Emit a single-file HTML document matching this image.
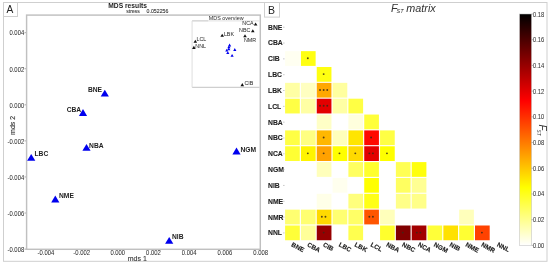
<!DOCTYPE html><html><head><meta charset="utf-8"><style>html,body{margin:0;padding:0;background:#fff;}svg{display:block;filter:blur(0.3px);}</style></head><body>
<svg width="550" height="265" viewBox="0 0 550 265" font-family="&quot;Liberation Sans&quot;, sans-serif">
<defs><linearGradient id="cb" x1="0" y1="0" x2="0" y2="1"><stop offset="0" stop-color="#000000"/><stop offset="0.375" stop-color="#ff0000"/><stop offset="0.75" stop-color="#ffff00"/><stop offset="1" stop-color="#ffffff"/></linearGradient></defs>
<rect width="550" height="265" fill="#fff"/>
<rect x="3.5" y="2.5" width="543.5" height="258.8" fill="none" stroke="#cfcfcf" stroke-width="1"/>
<rect x="3.5" y="2.5" width="14" height="14" fill="none" stroke="#cfcfcf" stroke-width="1"/>
<text x="6.4" y="12.9" font-size="10.2" fill="#222">A</text>
<rect x="264.5" y="2.5" width="15" height="14.6" fill="none" stroke="#cfcfcf" stroke-width="1"/>
<text x="268" y="13.6" font-size="10.5" fill="#222">B</text>
<text x="108.3" y="8.2" font-size="6.7" font-weight="bold" fill="#222">MDS results</text>
<text x="126.3" y="13.2" font-size="5.7" fill="#333" stroke="#333" stroke-width="0.1" textLength="13.4" lengthAdjust="spacingAndGlyphs">stress</text>
<text x="146.6" y="13.2" font-size="5.7" fill="#333" stroke="#333" stroke-width="0.1" textLength="21.8" lengthAdjust="spacingAndGlyphs">0.052256</text>
<rect x="26.6" y="15.1" width="233.7" height="234.2" fill="none" stroke="#c0c0c0" stroke-width="1.45"/>
<line x1="24.5" y1="32.64" x2="26" y2="32.64" stroke="#999" stroke-width="0.8"/>
<text x="24.2" y="35.44" font-size="6.9" fill="#333" stroke="#333" stroke-width="0.05" text-anchor="end" textLength="14.74" lengthAdjust="spacingAndGlyphs">0.004</text>
<line x1="24.5" y1="68.72" x2="26" y2="68.72" stroke="#999" stroke-width="0.8"/>
<text x="24.2" y="71.52" font-size="6.9" fill="#333" stroke="#333" stroke-width="0.05" text-anchor="end" textLength="14.74" lengthAdjust="spacingAndGlyphs">0.002</text>
<line x1="24.5" y1="104.80" x2="26" y2="104.80" stroke="#999" stroke-width="0.8"/>
<text x="24.2" y="107.60" font-size="6.9" fill="#333" stroke="#333" stroke-width="0.05" text-anchor="end" textLength="14.74" lengthAdjust="spacingAndGlyphs">0.000</text>
<line x1="24.5" y1="140.88" x2="26" y2="140.88" stroke="#999" stroke-width="0.8"/>
<text x="24.2" y="143.68" font-size="6.9" fill="#333" stroke="#333" stroke-width="0.05" text-anchor="end" textLength="16.70" lengthAdjust="spacingAndGlyphs">-0.002</text>
<line x1="24.5" y1="176.96" x2="26" y2="176.96" stroke="#999" stroke-width="0.8"/>
<text x="24.2" y="179.76" font-size="6.9" fill="#333" stroke="#333" stroke-width="0.05" text-anchor="end" textLength="16.70" lengthAdjust="spacingAndGlyphs">-0.004</text>
<line x1="24.5" y1="213.04" x2="26" y2="213.04" stroke="#999" stroke-width="0.8"/>
<text x="24.2" y="215.84" font-size="6.9" fill="#333" stroke="#333" stroke-width="0.05" text-anchor="end" textLength="16.70" lengthAdjust="spacingAndGlyphs">-0.006</text>
<line x1="24.5" y1="249.12" x2="26" y2="249.12" stroke="#999" stroke-width="0.8"/>
<text x="24.2" y="251.92" font-size="6.9" fill="#333" stroke="#333" stroke-width="0.05" text-anchor="end" textLength="16.70" lengthAdjust="spacingAndGlyphs">-0.008</text>
<text x="45.90" y="255.1" font-size="6.9" fill="#333" stroke="#333" stroke-width="0.05" text-anchor="middle" textLength="16.70" lengthAdjust="spacingAndGlyphs">-0.004</text>
<text x="81.63" y="255.1" font-size="6.9" fill="#333" stroke="#333" stroke-width="0.05" text-anchor="middle" textLength="16.70" lengthAdjust="spacingAndGlyphs">-0.002</text>
<text x="117.76" y="255.1" font-size="6.9" fill="#333" stroke="#333" stroke-width="0.05" text-anchor="middle" textLength="14.74" lengthAdjust="spacingAndGlyphs">0.000</text>
<text x="153.49" y="255.1" font-size="6.9" fill="#333" stroke="#333" stroke-width="0.05" text-anchor="middle" textLength="14.74" lengthAdjust="spacingAndGlyphs">0.002</text>
<text x="189.22" y="255.1" font-size="6.9" fill="#333" stroke="#333" stroke-width="0.05" text-anchor="middle" textLength="14.74" lengthAdjust="spacingAndGlyphs">0.004</text>
<text x="224.95" y="255.1" font-size="6.9" fill="#333" stroke="#333" stroke-width="0.05" text-anchor="middle" textLength="14.74" lengthAdjust="spacingAndGlyphs">0.006</text>
<text x="260.68" y="255.1" font-size="6.9" fill="#333" stroke="#333" stroke-width="0.05" text-anchor="middle" textLength="14.74" lengthAdjust="spacingAndGlyphs">0.008</text>
<text x="137.3" y="260.7" font-size="7" fill="#333" stroke="#333" stroke-width="0.1" text-anchor="middle">mds 1</text>
<text transform="translate(15,125.4) rotate(-90)" font-size="7" fill="#333" stroke="#333" stroke-width="0.1" text-anchor="middle">mds 2</text>
<path d="M104.80 89.80L108.90 96.60L100.70 96.60Z" fill="#0000ee"/>
<text x="102.00" y="92.00" font-size="6.7" font-weight="bold" fill="#222" text-anchor="end">BNE</text>
<path d="M83.00 109.10L87.10 115.90L78.90 115.90Z" fill="#0000ee"/>
<text x="81.20" y="112.20" font-size="6.7" font-weight="bold" fill="#222" text-anchor="end">CBA</text>
<path d="M31.20 153.90L35.30 160.70L27.10 160.70Z" fill="#0000ee"/>
<text x="34.50" y="156.00" font-size="6.7" font-weight="bold" fill="#222" text-anchor="start">LBC</text>
<path d="M86.50 143.90L90.60 150.70L82.40 150.70Z" fill="#0000ee"/>
<text x="89.10" y="148.00" font-size="6.7" font-weight="bold" fill="#222" text-anchor="start">NBA</text>
<path d="M55.30 195.60L59.40 202.40L51.20 202.40Z" fill="#0000ee"/>
<text x="59.00" y="198.40" font-size="6.7" font-weight="bold" fill="#222" text-anchor="start">NME</text>
<path d="M236.50 147.60L240.60 154.40L232.40 154.40Z" fill="#0000ee"/>
<text x="240.40" y="151.80" font-size="6.7" font-weight="bold" fill="#222" text-anchor="start">NGM</text>
<path d="M169.20 237.00L173.30 243.80L165.10 243.80Z" fill="#0000ee"/>
<text x="172.00" y="238.85" font-size="6.7" font-weight="bold" fill="#222" text-anchor="start">NIB</text>
<rect x="192.1" y="20.9" width="66.6" height="66.4" fill="#fff" stroke="none"/>
<path d="M208.2 20.9H259.5" fill="none" stroke="#dedede" stroke-width="0.9"/>
<path d="M192.1 20.9H208.2M192.1 87.3H259.5" fill="none" stroke="#bcbcbc" stroke-width="0.9"/>
<path d="M192.1 20.9V87.3" fill="none" stroke="#dadada" stroke-width="0.9"/>
<text x="208.8" y="19.9" font-size="5.4" fill="#2a2a2a">MDS overview</text>
<path d="M195.30 39.65L197.10 42.75L193.50 42.75Z" fill="#111"/>
<text x="196.50" y="41.40" font-size="5.35" fill="#222" text-anchor="start">LCL</text>
<path d="M193.90 45.85L195.70 48.95L192.10 48.95Z" fill="#111"/>
<text x="195.30" y="47.90" font-size="5.35" fill="#222" text-anchor="start">NNL</text>
<path d="M222.20 33.75L224.00 36.85L220.40 36.85Z" fill="#111"/>
<text x="223.90" y="35.70" font-size="5.35" fill="#222" text-anchor="start">LBK</text>
<path d="M255.60 22.45L257.40 25.55L253.80 25.55Z" fill="#111"/>
<text x="253.60" y="25.10" font-size="5.35" fill="#222" text-anchor="end">NCA</text>
<path d="M252.80 29.15L254.60 32.25L251.00 32.25Z" fill="#111"/>
<text x="250.40" y="31.90" font-size="5.35" fill="#222" text-anchor="end">NBC</text>
<path d="M245.00 34.15L246.80 37.25L243.20 37.25Z" fill="#111"/>
<text x="244.00" y="41.90" font-size="5.35" fill="#222" text-anchor="start">NMR</text>
<path d="M242.30 83.05L244.10 86.15L240.50 86.15Z" fill="#111"/>
<text x="244.50" y="85.10" font-size="5.35" fill="#222" text-anchor="start">CIB</text>
<path d="M229.60 43.60L231.20 46.40L228.00 46.40Z" fill="#0000ee"/>
<path d="M228.90 45.50L230.50 48.30L227.30 48.30Z" fill="#0000ee"/>
<path d="M228.80 47.40L230.40 50.20L227.20 50.20Z" fill="#0000ee"/>
<path d="M226.80 48.80L228.40 51.60L225.20 51.60Z" fill="#0000ee"/>
<path d="M227.80 51.20L229.40 54.00L226.20 54.00Z" fill="#0000ee"/>
<path d="M234.80 48.10L236.40 50.90L233.20 50.90Z" fill="#0000ee"/>
<path d="M232.10 54.00L233.70 56.80L230.50 56.80Z" fill="#0000ee"/>
<text x="391" y="11.7" font-size="10.8" font-style="italic" fill="#333">F</text>
<text x="396.6" y="13.0" font-size="5.6" font-style="italic" fill="#333">ST</text>
<text x="406.3" y="11.7" font-size="10.8" font-style="italic" fill="#333">matrix</text>
<text x="268" y="29.61" font-size="6.8" font-weight="bold" fill="#222" stroke="#222" stroke-width="0.1">BNE</text>
<line x1="283" y1="27.21" x2="284.6" y2="27.21" stroke="#aaa" stroke-width="0.6"/>
<text x="268" y="45.44" font-size="6.8" font-weight="bold" fill="#222" stroke="#222" stroke-width="0.1">CBA</text>
<line x1="283" y1="43.04" x2="284.6" y2="43.04" stroke="#aaa" stroke-width="0.6"/>
<text x="268" y="61.26" font-size="6.8" font-weight="bold" fill="#222" stroke="#222" stroke-width="0.1">CIB</text>
<line x1="283" y1="58.86" x2="284.6" y2="58.86" stroke="#aaa" stroke-width="0.6"/>
<text x="268" y="77.09" font-size="6.8" font-weight="bold" fill="#222" stroke="#222" stroke-width="0.1">LBC</text>
<line x1="283" y1="74.69" x2="284.6" y2="74.69" stroke="#aaa" stroke-width="0.6"/>
<text x="268" y="92.91" font-size="6.8" font-weight="bold" fill="#222" stroke="#222" stroke-width="0.1">LBK</text>
<line x1="283" y1="90.51" x2="284.6" y2="90.51" stroke="#aaa" stroke-width="0.6"/>
<text x="268" y="108.74" font-size="6.8" font-weight="bold" fill="#222" stroke="#222" stroke-width="0.1">LCL</text>
<line x1="283" y1="106.34" x2="284.6" y2="106.34" stroke="#aaa" stroke-width="0.6"/>
<text x="268" y="124.56" font-size="6.8" font-weight="bold" fill="#222" stroke="#222" stroke-width="0.1">NBA</text>
<line x1="283" y1="122.16" x2="284.6" y2="122.16" stroke="#aaa" stroke-width="0.6"/>
<text x="268" y="140.39" font-size="6.8" font-weight="bold" fill="#222" stroke="#222" stroke-width="0.1">NBC</text>
<line x1="283" y1="137.99" x2="284.6" y2="137.99" stroke="#aaa" stroke-width="0.6"/>
<text x="268" y="156.21" font-size="6.8" font-weight="bold" fill="#222" stroke="#222" stroke-width="0.1">NCA</text>
<line x1="283" y1="153.81" x2="284.6" y2="153.81" stroke="#aaa" stroke-width="0.6"/>
<text x="268" y="172.04" font-size="6.8" font-weight="bold" fill="#222" stroke="#222" stroke-width="0.1">NGM</text>
<line x1="283" y1="169.64" x2="284.6" y2="169.64" stroke="#aaa" stroke-width="0.6"/>
<text x="268" y="187.86" font-size="6.8" font-weight="bold" fill="#222" stroke="#222" stroke-width="0.1">NIB</text>
<line x1="283" y1="185.46" x2="284.6" y2="185.46" stroke="#aaa" stroke-width="0.6"/>
<text x="268" y="203.69" font-size="6.8" font-weight="bold" fill="#222" stroke="#222" stroke-width="0.1">NME</text>
<line x1="283" y1="201.29" x2="284.6" y2="201.29" stroke="#aaa" stroke-width="0.6"/>
<text x="268" y="219.51" font-size="6.8" font-weight="bold" fill="#222" stroke="#222" stroke-width="0.1">NMR</text>
<line x1="283" y1="217.11" x2="284.6" y2="217.11" stroke="#aaa" stroke-width="0.6"/>
<text x="268" y="235.34" font-size="6.8" font-weight="bold" fill="#222" stroke="#222" stroke-width="0.1">NNL</text>
<line x1="283" y1="232.94" x2="284.6" y2="232.94" stroke="#aaa" stroke-width="0.6"/>
<rect x="285.10" y="51.15" width="14.7" height="14.75" fill="#fffff1"/>
<rect x="300.93" y="51.15" width="14.7" height="14.75" fill="#ffff11"/>
<circle cx="307.82" cy="58.25" r="0.95" fill="#3a2a18" opacity="0.85"/>
<rect x="316.75" y="67.00" width="14.7" height="14.75" fill="#ffff11"/>
<circle cx="323.65" cy="74.10" r="0.95" fill="#3a2a18" opacity="0.85"/>
<rect x="285.10" y="82.85" width="14.7" height="14.75" fill="#ffffa4"/>
<rect x="300.93" y="82.85" width="14.7" height="14.75" fill="#ffffc1"/>
<rect x="316.75" y="82.85" width="14.7" height="14.75" fill="#ffa800"/>
<circle cx="320.05" cy="89.95" r="0.95" fill="#3a2a18" opacity="0.85"/>
<circle cx="323.65" cy="89.95" r="0.95" fill="#3a2a18" opacity="0.85"/>
<circle cx="327.25" cy="89.95" r="0.95" fill="#3a2a18" opacity="0.85"/>
<rect x="332.58" y="82.85" width="14.7" height="14.75" fill="#ffff9f"/>
<rect x="285.10" y="98.70" width="14.7" height="14.75" fill="#ffff44"/>
<rect x="300.93" y="98.70" width="14.7" height="14.75" fill="#ffffa4"/>
<rect x="316.75" y="98.70" width="14.7" height="14.75" fill="#e30000"/>
<circle cx="320.05" cy="105.80" r="0.95" fill="#3a2a18" opacity="0.85"/>
<circle cx="323.65" cy="105.80" r="0.95" fill="#3a2a18" opacity="0.85"/>
<circle cx="327.25" cy="105.80" r="0.95" fill="#3a2a18" opacity="0.85"/>
<rect x="332.58" y="98.70" width="14.7" height="14.75" fill="#ffffa4"/>
<rect x="348.40" y="98.70" width="14.7" height="14.75" fill="#ffff44"/>
<rect x="316.75" y="114.55" width="14.7" height="14.75" fill="#ffffc6"/>
<rect x="348.40" y="114.55" width="14.7" height="14.75" fill="#ffffdd"/>
<rect x="364.23" y="114.55" width="14.7" height="14.75" fill="#ffff39"/>
<rect x="285.10" y="130.40" width="14.7" height="14.75" fill="#ffff44"/>
<rect x="300.93" y="130.40" width="14.7" height="14.75" fill="#ffff82"/>
<rect x="316.75" y="130.40" width="14.7" height="14.75" fill="#ffb700"/>
<circle cx="323.65" cy="137.50" r="0.95" fill="#3a2a18" opacity="0.85"/>
<rect x="332.58" y="130.40" width="14.7" height="14.75" fill="#ffffbb"/>
<rect x="348.40" y="130.40" width="14.7" height="14.75" fill="#ffe500"/>
<rect x="364.23" y="130.40" width="14.7" height="14.75" fill="#ff0900"/>
<circle cx="371.12" cy="137.50" r="0.95" fill="#3a2a18" opacity="0.85"/>
<rect x="380.05" y="130.40" width="14.7" height="14.75" fill="#ffff44"/>
<rect x="285.10" y="146.25" width="14.7" height="14.75" fill="#ffff33"/>
<rect x="300.93" y="146.25" width="14.7" height="14.75" fill="#fff400"/>
<circle cx="307.82" cy="153.35" r="0.95" fill="#3a2a18" opacity="0.85"/>
<rect x="316.75" y="146.25" width="14.7" height="14.75" fill="#ffa100"/>
<circle cx="323.65" cy="153.35" r="0.95" fill="#3a2a18" opacity="0.85"/>
<rect x="332.58" y="146.25" width="14.7" height="14.75" fill="#ffff00"/>
<circle cx="339.48" cy="153.35" r="0.95" fill="#3a2a18" opacity="0.85"/>
<rect x="348.40" y="146.25" width="14.7" height="14.75" fill="#ffd900"/>
<circle cx="355.30" cy="153.35" r="0.95" fill="#3a2a18" opacity="0.85"/>
<rect x="364.23" y="146.25" width="14.7" height="14.75" fill="#e30000"/>
<circle cx="369.32" cy="153.35" r="0.95" fill="#3a2a18" opacity="0.85"/>
<circle cx="372.93" cy="153.35" r="0.95" fill="#3a2a18" opacity="0.85"/>
<rect x="380.05" y="146.25" width="14.7" height="14.75" fill="#ffff00"/>
<circle cx="386.95" cy="153.35" r="0.95" fill="#3a2a18" opacity="0.85"/>
<rect x="316.75" y="162.10" width="14.7" height="14.75" fill="#ffffbb"/>
<rect x="348.40" y="162.10" width="14.7" height="14.75" fill="#ffff60"/>
<rect x="364.23" y="162.10" width="14.7" height="14.75" fill="#ffff2d"/>
<rect x="395.88" y="162.10" width="14.7" height="14.75" fill="#ffff55"/>
<rect x="411.70" y="162.10" width="14.7" height="14.75" fill="#ffff0b"/>
<rect x="332.58" y="177.95" width="14.7" height="14.75" fill="#ffffee"/>
<rect x="364.23" y="177.95" width="14.7" height="14.75" fill="#ffff00"/>
<rect x="395.88" y="177.95" width="14.7" height="14.75" fill="#ffff60"/>
<rect x="411.70" y="177.95" width="14.7" height="14.75" fill="#ffff93"/>
<rect x="316.75" y="193.80" width="14.7" height="14.75" fill="#ffffe8"/>
<rect x="348.40" y="193.80" width="14.7" height="14.75" fill="#ffff7d"/>
<rect x="364.23" y="193.80" width="14.7" height="14.75" fill="#ffff17"/>
<rect x="395.88" y="193.80" width="14.7" height="14.75" fill="#ffff88"/>
<rect x="411.70" y="193.80" width="14.7" height="14.75" fill="#ffff88"/>
<rect x="285.10" y="209.65" width="14.7" height="14.75" fill="#ffff71"/>
<rect x="300.93" y="209.65" width="14.7" height="14.75" fill="#ffff71"/>
<rect x="316.75" y="209.65" width="14.7" height="14.75" fill="#ffd900"/>
<circle cx="321.85" cy="216.75" r="0.95" fill="#3a2a18" opacity="0.85"/>
<circle cx="325.45" cy="216.75" r="0.95" fill="#3a2a18" opacity="0.85"/>
<rect x="332.58" y="209.65" width="14.7" height="14.75" fill="#ffff71"/>
<rect x="348.40" y="209.65" width="14.7" height="14.75" fill="#ffff66"/>
<rect x="364.23" y="209.65" width="14.7" height="14.75" fill="#ff5500"/>
<circle cx="369.32" cy="216.75" r="0.95" fill="#3a2a18" opacity="0.85"/>
<circle cx="372.93" cy="216.75" r="0.95" fill="#3a2a18" opacity="0.85"/>
<rect x="380.05" y="209.65" width="14.7" height="14.75" fill="#ffffbb"/>
<rect x="459.18" y="209.65" width="14.7" height="14.75" fill="#ffffbb"/>
<rect x="285.10" y="225.50" width="14.7" height="14.75" fill="#ffff39"/>
<rect x="300.93" y="225.50" width="14.7" height="14.75" fill="#ffff99"/>
<rect x="316.75" y="225.50" width="14.7" height="14.75" fill="#970000"/>
<circle cx="323.65" cy="232.60" r="0.95" fill="#3a2a18" opacity="0.85"/>
<rect x="348.40" y="225.50" width="14.7" height="14.75" fill="#ffff4f"/>
<rect x="380.05" y="225.50" width="14.7" height="14.75" fill="#ffff2d"/>
<rect x="395.88" y="225.50" width="14.7" height="14.75" fill="#800000"/>
<circle cx="402.77" cy="232.60" r="0.95" fill="#3a2a18" opacity="0.85"/>
<rect x="411.70" y="225.50" width="14.7" height="14.75" fill="#a20000"/>
<circle cx="416.80" cy="232.60" r="0.95" fill="#3a2a18" opacity="0.85"/>
<circle cx="420.40" cy="232.60" r="0.95" fill="#3a2a18" opacity="0.85"/>
<rect x="427.52" y="225.50" width="14.7" height="14.75" fill="#ffff39"/>
<rect x="443.35" y="225.50" width="14.7" height="14.75" fill="#ffe100"/>
<rect x="459.18" y="225.50" width="14.7" height="14.75" fill="#ffff33"/>
<rect x="475.00" y="225.50" width="14.7" height="14.75" fill="#ff4200"/>
<circle cx="481.90" cy="232.60" r="0.95" fill="#3a2a18" opacity="0.85"/>
<text transform="translate(290.81,246.0) rotate(28)" font-size="6.4" font-weight="bold" fill="#1a1a1a" stroke="#1a1a1a" stroke-width="0.15">BNE</text>
<text transform="translate(306.64,246.0) rotate(28)" font-size="6.4" font-weight="bold" fill="#1a1a1a" stroke="#1a1a1a" stroke-width="0.15">CBA</text>
<text transform="translate(322.46,246.0) rotate(28)" font-size="6.4" font-weight="bold" fill="#1a1a1a" stroke="#1a1a1a" stroke-width="0.15">CIB</text>
<text transform="translate(338.29,246.0) rotate(28)" font-size="6.4" font-weight="bold" fill="#1a1a1a" stroke="#1a1a1a" stroke-width="0.15">LBC</text>
<text transform="translate(354.11,246.0) rotate(28)" font-size="6.4" font-weight="bold" fill="#1a1a1a" stroke="#1a1a1a" stroke-width="0.15">LBK</text>
<text transform="translate(369.94,246.0) rotate(28)" font-size="6.4" font-weight="bold" fill="#1a1a1a" stroke="#1a1a1a" stroke-width="0.15">LCL</text>
<text transform="translate(385.76,246.0) rotate(28)" font-size="6.4" font-weight="bold" fill="#1a1a1a" stroke="#1a1a1a" stroke-width="0.15">NBA</text>
<text transform="translate(401.59,246.0) rotate(28)" font-size="6.4" font-weight="bold" fill="#1a1a1a" stroke="#1a1a1a" stroke-width="0.15">NBC</text>
<text transform="translate(417.41,246.0) rotate(28)" font-size="6.4" font-weight="bold" fill="#1a1a1a" stroke="#1a1a1a" stroke-width="0.15">NCA</text>
<text transform="translate(433.24,246.0) rotate(28)" font-size="6.4" font-weight="bold" fill="#1a1a1a" stroke="#1a1a1a" stroke-width="0.15">NGM</text>
<text transform="translate(449.06,246.0) rotate(28)" font-size="6.4" font-weight="bold" fill="#1a1a1a" stroke="#1a1a1a" stroke-width="0.15">NIB</text>
<text transform="translate(464.89,246.0) rotate(28)" font-size="6.4" font-weight="bold" fill="#1a1a1a" stroke="#1a1a1a" stroke-width="0.15">NME</text>
<text transform="translate(480.71,246.0) rotate(28)" font-size="6.4" font-weight="bold" fill="#1a1a1a" stroke="#1a1a1a" stroke-width="0.15">NMR</text>
<text transform="translate(496.54,246.0) rotate(28)" font-size="6.4" font-weight="bold" fill="#1a1a1a" stroke="#1a1a1a" stroke-width="0.15">NNL</text>
<rect x="519.6" y="14" width="11.9" height="231.4" fill="url(#cb)" stroke="#bbb" stroke-width="0.5"/>
<line x1="531.5" y1="245.40" x2="533" y2="245.40" stroke="#888" stroke-width="0.6"/>
<text x="533" y="247.90" font-size="6.9" fill="#333" stroke="#333" stroke-width="0.05" textLength="11.22" lengthAdjust="spacingAndGlyphs">0.00</text>
<line x1="531.5" y1="219.69" x2="533" y2="219.69" stroke="#888" stroke-width="0.6"/>
<text x="533" y="222.19" font-size="6.9" fill="#333" stroke="#333" stroke-width="0.05" textLength="11.22" lengthAdjust="spacingAndGlyphs">0.02</text>
<line x1="531.5" y1="193.98" x2="533" y2="193.98" stroke="#888" stroke-width="0.6"/>
<text x="533" y="196.48" font-size="6.9" fill="#333" stroke="#333" stroke-width="0.05" textLength="11.22" lengthAdjust="spacingAndGlyphs">0.04</text>
<line x1="531.5" y1="168.27" x2="533" y2="168.27" stroke="#888" stroke-width="0.6"/>
<text x="533" y="170.77" font-size="6.9" fill="#333" stroke="#333" stroke-width="0.05" textLength="11.22" lengthAdjust="spacingAndGlyphs">0.06</text>
<line x1="531.5" y1="142.56" x2="533" y2="142.56" stroke="#888" stroke-width="0.6"/>
<text x="533" y="145.06" font-size="6.9" fill="#333" stroke="#333" stroke-width="0.05" textLength="11.22" lengthAdjust="spacingAndGlyphs">0.08</text>
<line x1="531.5" y1="116.84" x2="533" y2="116.84" stroke="#888" stroke-width="0.6"/>
<text x="533" y="119.34" font-size="6.9" fill="#333" stroke="#333" stroke-width="0.05" textLength="11.22" lengthAdjust="spacingAndGlyphs">0.10</text>
<line x1="531.5" y1="91.13" x2="533" y2="91.13" stroke="#888" stroke-width="0.6"/>
<text x="533" y="93.63" font-size="6.9" fill="#333" stroke="#333" stroke-width="0.05" textLength="11.22" lengthAdjust="spacingAndGlyphs">0.12</text>
<line x1="531.5" y1="65.42" x2="533" y2="65.42" stroke="#888" stroke-width="0.6"/>
<text x="533" y="67.92" font-size="6.9" fill="#333" stroke="#333" stroke-width="0.05" textLength="11.22" lengthAdjust="spacingAndGlyphs">0.14</text>
<line x1="531.5" y1="39.71" x2="533" y2="39.71" stroke="#888" stroke-width="0.6"/>
<text x="533" y="42.21" font-size="6.9" fill="#333" stroke="#333" stroke-width="0.05" textLength="11.22" lengthAdjust="spacingAndGlyphs">0.16</text>
<line x1="531.5" y1="14.00" x2="533" y2="14.00" stroke="#888" stroke-width="0.6"/>
<text x="533" y="16.50" font-size="6.9" fill="#333" stroke="#333" stroke-width="0.05" textLength="11.22" lengthAdjust="spacingAndGlyphs">0.18</text>
<g transform="translate(539.2,124.6) rotate(90)"><text x="0" y="0" font-size="10" font-style="italic" fill="#333">F</text><text x="5.0" y="2.6" font-size="4.7" font-style="italic" fill="#333">ST</text></g>
</svg></body></html>
